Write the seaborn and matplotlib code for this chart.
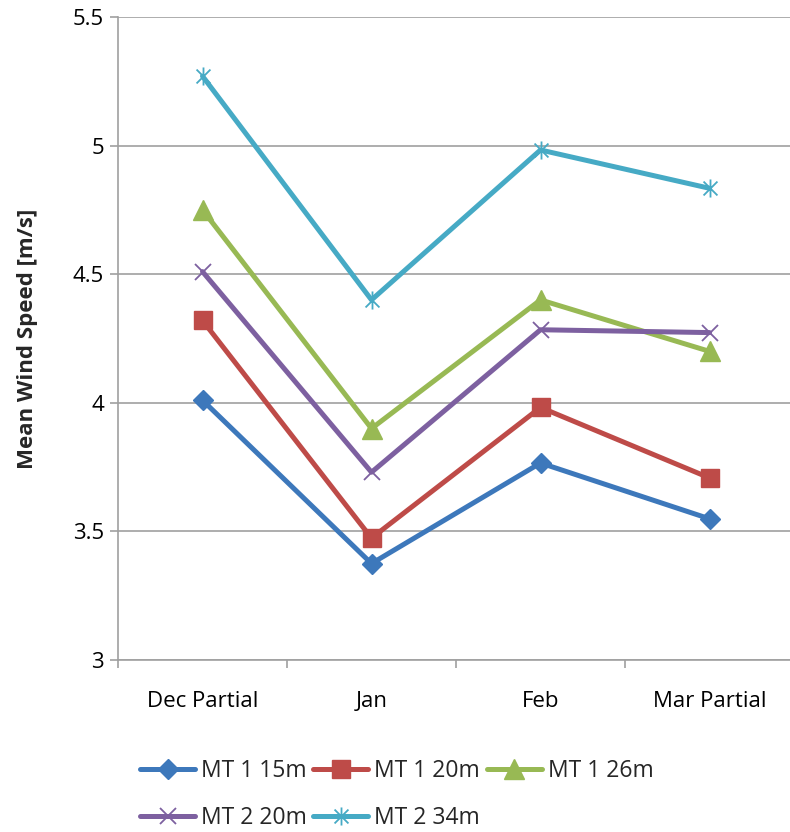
import matplotlib
matplotlib.use("Agg")
import matplotlib.pyplot as plt
import seaborn as sns
import numpy as np
from matplotlib.path import Path

months = ["Dec Partial", "Jan", "Feb", "Mar Partial"]
mt1_15m = [4.01, 3.375, 3.766, 3.549]
mt1_20m = [4.32, 3.474, 3.982, 3.708]
mt1_26m = [4.75, 3.90, 4.40, 4.20]
mt2_20m = [4.51, 3.73, 4.284, 4.273]
mt2_34m = [5.27, 4.40, 4.983, 4.834]
series_names = ["MT 1 15m", "MT 1 20m", "MT 1 26m", "MT 2 20m", "MT 2 34m"]
yticks = [3, 3.5, 4, 4.5, 5, 5.5]
ytick_labels = ["3", "3.5", "4", "4.5", "5", "5.5"]

sns.set_theme(style="white")
plt.rcParams["font.family"] = ["Open Sans", "DejaVu Sans"]

# asterisk marker: X plus vertical line
ast = Path([(-1, -1), (1, 1), (-1, 1), (1, -1), (0, -1.3), (0, 1.3)],
           [Path.MOVETO, Path.LINETO, Path.MOVETO, Path.LINETO, Path.MOVETO, Path.LINETO])

styles = [
    dict(color="#3d78bb", marker="D", ms=10, mfc="#3d78bb", mec="#3d78bb", mew=1),
    dict(color="#be4b48", marker="s", ms=13, mfc="#be4b48", mec="#be4b48", mew=1),
    dict(color="#98b954", marker="^", ms=14, mfc="#98b954", mec="#98b954", mew=1),
    dict(color="#7d60a0", marker="x", ms=12, mec="#7d60a0", mew=1.3),
    dict(color="#46aac5", marker=ast, ms=13, mfc="none", mec="#46aac5", mew=1.3),
]
data = [mt1_15m, mt1_20m, mt1_26m, mt2_20m, mt2_34m]

fig = plt.figure(figsize=(7.9, 8.32), dpi=100)
ax = fig.add_axes([118/790, (832-660)/832, 676/790, 643/832])

for name, vals, st in zip(series_names, data, styles):
    sns.lineplot(x=months, y=vals, ax=ax, label=name, lw=3.6, sort=False, **st)

ax.set_ylim(3, 5.5)
ax.set_xlim(-0.5, 3.5)
ax.set_yticks(yticks)
ax.set_yticklabels(ytick_labels)
ax.yaxis.grid(True, color="#a0a0a0", lw=1.2)
ax.xaxis.grid(False)
for s in ["top", "right"]:
    ax.spines[s].set_visible(False)
for s in ["left", "bottom"]:
    ax.spines[s].set_color("#a0a0a0")
    ax.spines[s].set_linewidth(1.2)

ax.set_xticks(range(len(months)))
ax.set_xticklabels(months)
ax.set_xticks([-0.5, 0.5, 1.5, 2.5, 3.5], minor=True)
ax.tick_params(axis="x", which="major", length=0, pad=22, labelsize=16, colors="black")
ax.tick_params(axis="x", which="minor", length=6, width=1.2, color="#a0a0a0", direction="out", bottom=True)
ax.tick_params(axis="y", which="major", length=6, width=1.2, color="#a0a0a0", direction="out", left=True, labelsize=16, pad=4, labelcolor="black")
ax.set_xlabel("")
ax.set_ylabel("Mean Wind Speed [m/s]", fontsize=16, fontweight="bold")
ax.yaxis.set_label_coords(-0.118, 0.5)

handles, labels = ax.get_legend_handles_labels()
order = [0, 3, 1, 4, 2]
ax.legend([handles[i] for i in order], [labels[i] for i in order],
          loc="upper left", bbox_to_anchor=(140/790, 1 - 759/832), bbox_transform=fig.transFigure,
          ncol=3, frameon=False, fontsize=16.5, handlelength=2.4, handletextpad=0.25,
          columnspacing=0.3, labelspacing=1.0, borderaxespad=0, borderpad=0)

fig.savefig("out.png", dpi=100)
